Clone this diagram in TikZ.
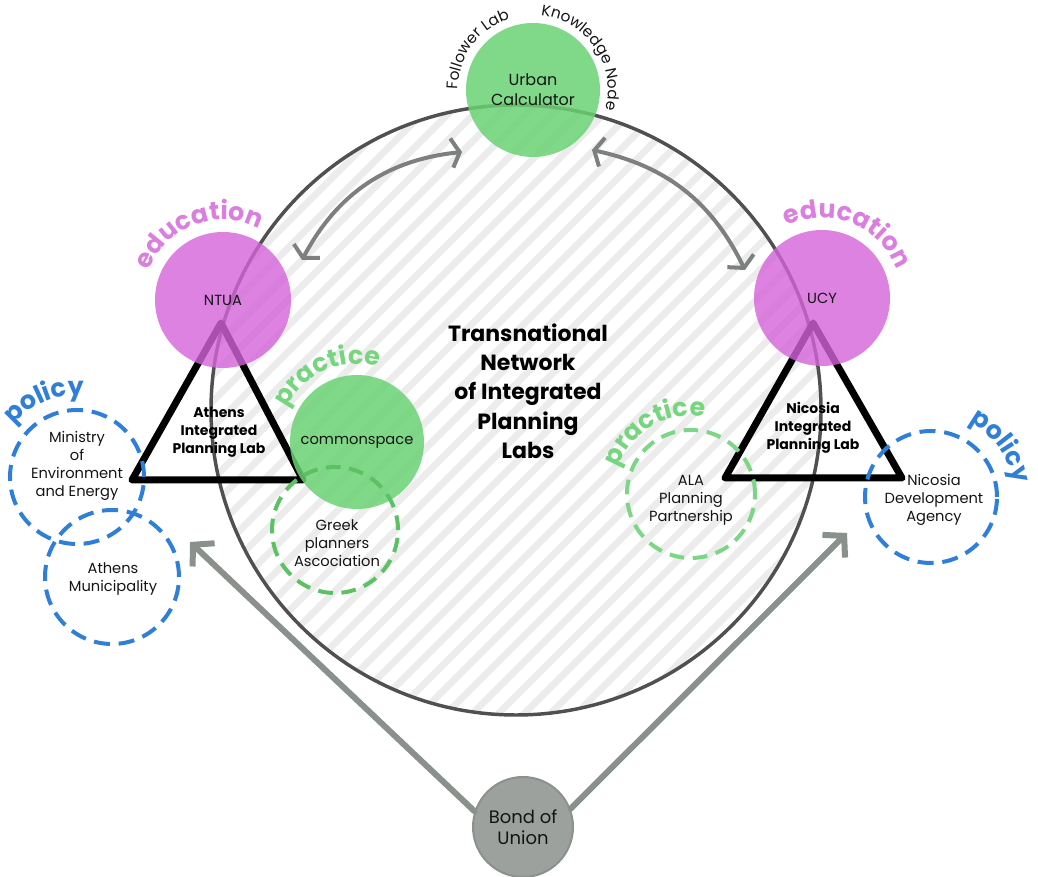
\documentclass[tikz,border=0pt]{standalone}
\usepackage{fontspec}
\setmainfont{Poppins}
\usetikzlibrary{arrows.meta,decorations.text,calc}
\definecolor{cgreen}{HTML}{6AD273}
\definecolor{cpink}{HTML}{D463D9}
\definecolor{cpinktxt}{HTML}{DA7EDF}
\definecolor{cblue}{HTML}{2F7FD9}
\definecolor{gdashA}{HTML}{5BC163}
\definecolor{gdashB}{HTML}{7DD685}
\definecolor{ptext}{HTML}{76D57E}
\definecolor{bondfill}{HTML}{9CA19D}
\definecolor{bondline}{HTML}{8C918D}
\definecolor{arrgray}{HTML}{8A908B}
\definecolor{curvgray}{HTML}{7E807F}
\definecolor{ringgray}{HTML}{505050}
\definecolor{stripecol}{HTML}{ECECEC}
\definecolor{txt}{HTML}{141414}
\newcommand\lblfont{\fontsize{11}{13.5}\selectfont}
\newcommand\labfont{\bfseries\fontsize{10.5}{13.5}\selectfont}
\newcommand\bigfont{\bfseries\fontsize{16.5}{22}\selectfont}
\newcommand\curvefont{\bfseries\fontsize{19}{19}\selectfont}
\newcommand\smallcurve{\fontsize{11.5}{11.5}\selectfont}
\newcommand\urbfont{\fontsize{12}{15}\selectfont}
\newcommand\bondfont{\fontsize{13.5}{16}\selectfont}
\newcommand\arctext[6]{\path[decorate,decoration={text along path,text align=center,text color=#4,text={|#5|#6}}] ($(#1)+({#2+85}:#3)$) arc[start angle={#2+85}, end angle={#2-85}, radius=#3];}
\begin{document}
\begin{tikzpicture}[x=0.75pt,y=0.75pt,
  stripeline/.style={draw=stripecol, line width=5.25pt},
  ring/.style={circle, draw=ringgray, line width=2.6pt, minimum size=457.5pt, inner sep=0pt},
  curvarrow/.style={draw=curvgray, line width=3pt, line cap=round, <->, >={Straight Barb[length=6pt,width=22pt]}},
  bondarrow/.style={draw=arrgray, line width=4.5pt, line cap=round, ->, >={Straight Barb[length=11pt,width=24pt]}},
  bond/.style={circle, fill=bondfill, draw=bondline, line width=1.5pt, minimum size=75pt, inner sep=0pt, align=center, font=\bondfont, text=txt},
  tri/.style={draw=black, line width=5.25pt, line join=round},
  gdisc/.style={circle, fill=cgreen, fill opacity=0.85, text opacity=1, minimum size=100.5pt, inner sep=0pt, align=center, font=\lblfont, text=txt},
  pdisc/.style={circle, fill=cpink, fill opacity=0.8, text opacity=1, minimum size=102pt, inner sep=0pt, align=center, font=\lblfont, text=txt},
  gring/.style={circle, draw=gdashA, line width=3pt, dash pattern=on 11pt off 6.5pt, minimum size=94.5pt, inner sep=0pt},
  gringb/.style={circle, draw=gdashB, line width=3pt, dash pattern=on 11pt off 6.5pt, minimum size=96pt, inner sep=0pt},
  bring/.style={circle, draw=cblue, line width=3pt, dash pattern=on 12pt off 6.6pt, minimum size=100.5pt, inner sep=0pt},
  lbl/.style={align=center, font=\lblfont, inner sep=0pt, text=txt},
  tlab/.style={align=center, font=\labfont, inner sep=0pt, text=black},
  bigl/.style={align=center, font=\bigfont, inner sep=0pt, text=black}
]
\useasboundingbox (0,0) rectangle (1038,877);
% hatched network circle
\coordinate (cc) at (516,467);
\begin{scope}
  \clip (cc) circle[radius=305];
  \foreach \k in {-30,...,30}
    \draw[stripeline] ({516+\k*26-360},107) -- ++(720,720);
\end{scope}
\node[ring] (ring) at (cc) {};
% curved double arrows
\coordinate (a1) at (302,617);
\coordinate (a2) at (462,725);
\coordinate (b1) at (592,727);
\coordinate (b2) at (745,607);
\draw[curvarrow] (a1) to[bend left=28] (a2);
\draw[curvarrow] (b1) to[bend left=26] (b2);
% bond of union
\node[bond] (bond) at (523,50) {Bond of\\Union};
\coordinate (tl) at (190,335);
\coordinate (tr) at (847,344);
\draw[bondarrow] (bond.162) -- (tl);
\draw[bondarrow] (bond.21) -- (tr);
% triangles
\coordinate (at) at (221,554); \coordinate (al) at (132,397); \coordinate (ar) at (303,397);
\draw[tri] (at) -- (ar) -- (al) -- cycle;
\coordinate (nt) at (813,554); \coordinate (nl) at (725,399); \coordinate (nr) at (902,399);
\draw[tri] (nt) -- (nr) -- (nl) -- cycle;
% filled discs
\node[gdisc, font=\urbfont] (urban) at (533,787) {Urban\\Calculator};
\node[pdisc] (ntua) at (223,577) {NTUA};
\node[pdisc] (ucy) at (822,579) {UCY};
\node[gdisc] (common) at (357,435) {commonspace};
% dashed rings
\node[gring] (greek) at (335,347) {};
\node[lbl] (greekt) at (337,334) {Greek\\planners\\Ascociation};
\node[gringb] (ala) at (691,383) {};
\node[lbl] (alat) at (691,377) {ALA\\Planning\\Partnership};
\node[bring] (min) at (77,400) {};
\node[lbl] (mint) at (77,411) {Ministry\\of\\Environment\\and Energy};
\node[bring] (muni) at (112,300) {};
\node[lbl] (munit) at (113,298) {Athens\\Municipality};
\node[bring, minimum size=99pt] (ndev) at (931,380) {};
\node[lbl] (ndevt) at (934,377) {Nicosia\\Development\\Agency};
% labels
\node[tlab] (athl) at (219,445) {Athens\\Integrated\\Planning Lab};
\node[tlab] (nicl) at (813,449) {Nicosia\\Integrated\\Planning Lab};
\node[bigl] (title) at (528,486) {Transnational\\Network\\of Integrated\\Planning\\Labs};
% curved labels
\arctext{urban}{143.7}{75}{txt}{\smallcurve}{Follower Lab}
\arctext{urban}{34.5}{75}{txt}{\smallcurve}{Knowledge Node}
\arctext{ntua}{110.5}{80}{cpinktxt}{\curvefont}{education}
\arctext{ucy}{68.5}{80}{cpinktxt}{\curvefont}{education}
\arctext{common}{114}{78}{ptext}{\curvefont}{practice}
\arctext{ala}{120}{78}{ptext}{\curvefont}{practice}
\arctext{min}{113}{82}{cblue}{\curvefont}{policy}
\arctext{ndev}{36}{84}{cblue}{\curvefont}{policy}
\end{tikzpicture}
\end{document}
